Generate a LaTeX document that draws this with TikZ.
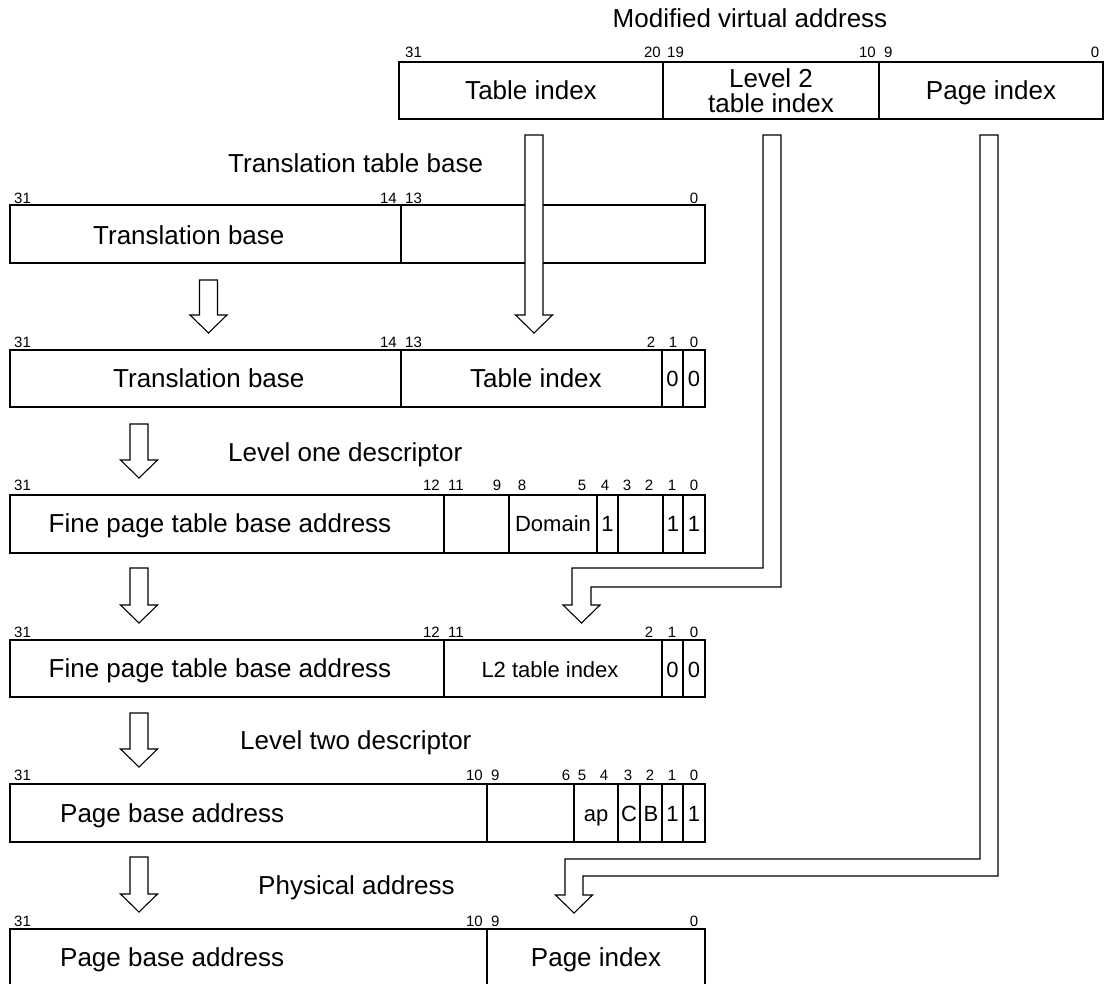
\documentclass[tikz,border=0pt]{standalone}
\usepackage{fontspec}
\setmainfont{Liberation Sans}
\usetikzlibrary{calc}
\newcommand{\hdown}[4]{% name, x, ytop, ytip
  \coordinate (#1top) at (#2,#3);
  \coordinate (#1tip) at (#2,#4);
  \draw[harrow] ($(#1top)+(-9,0)$) -- ($(#1top)+(9,0)$) -- ($(#1tip)+(9,-18)$) -- ($(#1tip)+(18.5,-18)$) -- (#1tip) -- ($(#1tip)+(-18.5,-18)$) -- ($(#1tip)+(-9,-18)$) -- cycle;}
\begin{document}
\begin{tikzpicture}[x=1pt,y=-1pt,
  frame/.style={line width=1.9pt},
  harrow/.style={draw, fill=white, line width=1.1pt, line join=miter},
  bit/.style={font=\fontsize{15}{17}\selectfont, inner sep=0pt, anchor=base},
  big/.style={font=\fontsize{26}{25}\selectfont, inner sep=0pt, anchor=base},
  mid/.style={font=\fontsize{22}{24}\selectfont, inner sep=0pt, anchor=base}]
\useasboundingbox (0,0) rectangle (1105,983);
\fill[white] (0,0) rectangle (1105,983);

% ---------- titles ----------
\node[big] (tva) at (750,27) {Modified virtual address};
\node[big, anchor=base west] (tttb) at (228,172) {Translation table base};
\node[big, anchor=base west] (tl1) at (228,461) {Level one descriptor};
\node[big, anchor=base west] (tl2) at (240,749) {Level two descriptor};
\node[big, anchor=base west] (tpa) at (258,894) {Physical address};

% ---------- virtual address ----------
\draw[frame] (399,62) rectangle (1103,119);
\draw[frame] (663,62) -- (663,119) (879,62) -- (879,119);
\node[bit, anchor=base west] (v31) at (405,57) {31};
\node[bit, anchor=base east] (v20) at (661,57) {20};
\node[bit, anchor=base west] (v19) at (667,57) {19};
\node[bit, anchor=base east] (v10) at (876,57) {10};
\node[bit, anchor=base west] (v9) at (884,57) {9};
\node[bit] (v0) at (1095,57) {0};
\node[big] (vti) at (531,99) {Table index};
\node[big] (vl2a) at (771,87) {Level 2};
\node[big] (vl2b) at (771,112) {table index};
\node[big] (vpi) at (991,99) {Page index};

% ---------- translation table base ----------
\draw[frame] (10,205) rectangle (705,263);
\draw[frame] (401,205) -- (401,263);
\node[bit, anchor=base west] (a31) at (14,203) {31};
\node[bit, anchor=base east] (a14) at (397,203) {14};
\node[bit, anchor=base west] (a13) at (405,203) {13};
\node[bit] (a0) at (694,203) {0};
\node[big, anchor=base west] (atb) at (93,244) {Translation base};

% ---------- box 2 ----------
\draw[frame] (10,350) rectangle (705,407);
\draw[frame] (401,350) -- (401,407) (662,350) -- (662,407) (683,350) -- (683,407);
\node[bit, anchor=base west] (b31) at (14,347) {31};
\node[bit, anchor=base east] (b14) at (397,347) {14};
\node[bit, anchor=base west] (b13) at (405,347) {13};
\node[bit] (b2) at (651,347) {2};
\node[bit] (b1) at (673,347) {1};
\node[bit] (b0) at (694,347) {0};
\node[big, anchor=base west] (btb) at (113,387) {Translation base};
\node[big, anchor=base west] (bti) at (470,387) {Table index};
\node[mid] (bz1) at (672.5,386) {0};
\node[mid] (bz0) at (694,386) {0};

% ---------- level one descriptor ----------
\draw[frame] (10,495) rectangle (705,553);
\draw[frame] (444,495) -- (444,553) (509,495) -- (509,553) (597,495) -- (597,553)
  (618,495) -- (618,553) (663,495) -- (663,553) (683,495) -- (683,553);
\node[bit, anchor=base west] (c31) at (14,490) {31};
\node[bit, anchor=base east] (c12) at (440,490) {12};
\node[bit, anchor=base west] (c11) at (448,490) {11};
\node[bit] (c9) at (497,490) {9};
\node[bit] (c8) at (522,490) {8};
\node[bit] (c5) at (582,490) {5};
\node[bit] (c4) at (605,490) {4};
\node[bit] (c3) at (627,490) {3};
\node[bit] (c2) at (649,490) {2};
\node[bit] (c1) at (672,490) {1};
\node[bit] (c0) at (694,490) {0};
\node[big] (cfp) at (220,532) {Fine page table base address};
\node[mid] (cdom) at (553,531) {Domain};
\node[mid] (cb4) at (607.5,531) {1};
\node[mid] (cb1) at (673,531) {1};
\node[mid] (cb0) at (694,531) {1};

% ---------- box 4 ----------
\draw[frame] (10,640) rectangle (705,697);
\draw[frame] (444,640) -- (444,697) (662,640) -- (662,697) (683,640) -- (683,697);
\node[bit, anchor=base west] (d31) at (14,637) {31};
\node[bit, anchor=base east] (d12) at (440,637) {12};
\node[bit, anchor=base west] (d11) at (448,637) {11};
\node[bit] (d2) at (649,637) {2};
\node[bit] (d1) at (672,637) {1};
\node[bit] (d0) at (694,637) {0};
\node[big] (dfp) at (220,677) {Fine page table base address};
\node[mid] (dl2) at (550,677) {L2 table index};
\node[mid] (dz1) at (672.5,677) {0};
\node[mid] (dz0) at (694,677) {0};

% ---------- level two descriptor ----------
\draw[frame] (10,784) rectangle (705,842);
\draw[frame] (487,784) -- (487,842) (574,784) -- (574,842) (618,784) -- (618,842)
  (640,784) -- (640,842) (662,784) -- (662,842) (683,784) -- (683,842);
\node[bit, anchor=base west] (e31) at (14,780) {31};
\node[bit, anchor=base east] (e10) at (483,780) {10};
\node[bit, anchor=base west] (e9) at (491,780) {9};
\node[bit] (e6) at (566,780) {6};
\node[bit] (e5) at (582,780) {5};
\node[bit] (e4) at (604,780) {4};
\node[bit] (e3) at (628,780) {3};
\node[bit] (e2) at (650,780) {2};
\node[bit] (e1) at (672,780) {1};
\node[bit] (e0) at (694,780) {0};
\node[big, anchor=base west] (epb) at (60,822) {Page base address};
\node[mid] (eap) at (596,821) {ap};
\node[mid] (ec) at (629,821) {C};
\node[mid] (eb) at (651,821) {B};
\node[mid] (e1v) at (672.5,821) {1};
\node[mid] (e0v) at (694,821) {1};

% ---------- physical address ----------
\draw[frame] (10,995) -- (10,929) -- (705,929) -- (705,995);
\draw[frame] (487,929) -- (487,995);
\node[bit, anchor=base west] (f31) at (14,926) {31};
\node[bit, anchor=base east] (f10) at (483,926) {10};
\node[bit, anchor=base west] (f9) at (491,926) {9};
\node[bit] (f0) at (694,926) {0};
\node[big, anchor=base west] (fpb) at (60,966) {Page base address};
\node[big] (fpi) at (596,966) {Page index};

% ---------- straight hollow arrows ----------
\hdown{s1}{208.5}{280}{333}
\hdown{s2}{139}{424}{478}
\hdown{s3}{139}{568}{623}
\hdown{s4}{139}{713}{767}
\hdown{s5}{139}{857}{912}
\hdown{ti}{534}{135}{333}

% ---------- bent hollow arrows ----------
\coordinate (l2top) at (772,135);
\coordinate (l2tip) at (581.5,623);
\draw[harrow] ($(l2top)+(-9,0)$) -- ($(l2top)+(9,0)$) -- (781,587) -- (591,587)
  -- ($(l2tip)+(9.5,-18)$) -- ($(l2tip)+(18.5,-18)$) -- (l2tip) -- ($(l2tip)+(-18.5,-18)$)
  -- ($(l2tip)+(-9.5,-18)$) -- (572,568) -- (763,568) -- cycle;
\coordinate (pitop) at (989,135);
\coordinate (pitip) at (574,913);
\draw[harrow] ($(pitop)+(-9,0)$) -- ($(pitop)+(9,0)$) -- (998,876) -- (583,876)
  -- ($(pitip)+(9,-18)$) -- ($(pitip)+(18.5,-18)$) -- (pitip) -- ($(pitip)+(-18.5,-18)$)
  -- ($(pitip)+(-9,-18)$) -- (565,859) -- (980,859) -- cycle;
\end{tikzpicture}
\end{document}
